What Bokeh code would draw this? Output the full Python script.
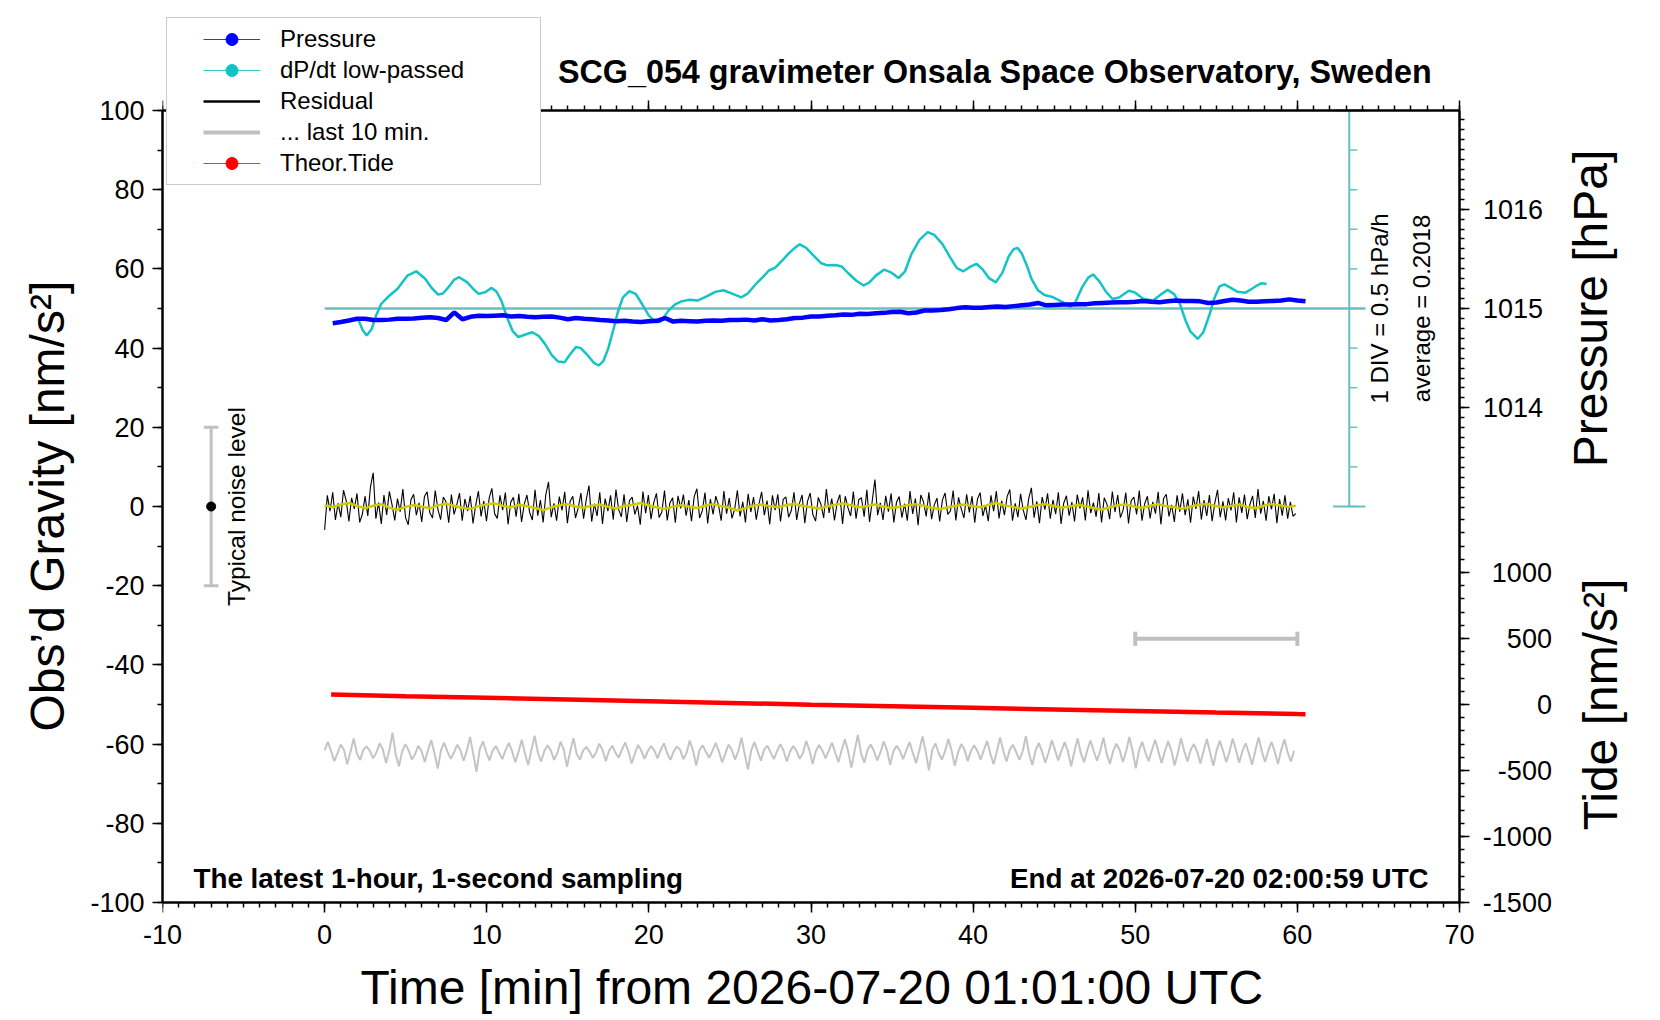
import numpy as np
from math import pi
from bokeh.plotting import figure
from bokeh.models import (Range1d, LinearAxis, SingleIntervalTicker, FixedTicker,
                          Label, Legend, LegendItem, PrintfTickFormatter, Title)
from bokeh.embed import file_html
from bokeh.resources import INLINE

FONT = "Liberation Sans"

# ---------------- data ----------------
# pressure [hPa], one value every 0.5 min from 0.5 to 60.5
PRESSURE_MIN = [0.5 + 0.5 * i for i in range(121)]
PRESSURE_HPA = [
    1014.852, 1014.864, 1014.880, 1014.896, 1014.896, 1014.884, 1014.884, 1014.888, 1014.896, 1014.896,
    1014.900, 1014.908, 1014.912, 1014.904, 1014.884, 1014.960, 1014.892, 1014.916, 1014.928, 1014.924,
    1014.928, 1014.932, 1014.920, 1014.924, 1014.916, 1014.912, 1014.916, 1014.920, 1014.908, 1014.892,
    1014.904, 1014.896, 1014.892, 1014.884, 1014.880, 1014.872, 1014.876, 1014.868, 1014.864, 1014.872,
    1014.876, 1014.904, 1014.868, 1014.876, 1014.872, 1014.868, 1014.876, 1014.880, 1014.876, 1014.884,
    1014.884, 1014.888, 1014.880, 1014.892, 1014.880, 1014.884, 1014.892, 1014.904, 1014.908, 1014.920,
    1014.920, 1014.928, 1014.932, 1014.940, 1014.936, 1014.948, 1014.944, 1014.952, 1014.956, 1014.964,
    1014.968, 1014.952, 1014.960, 1014.980, 1014.980, 1014.984, 1014.992, 1015.004, 1015.012, 1015.008,
    1015.008, 1015.016, 1015.020, 1015.016, 1015.024, 1015.032, 1015.040, 1015.056, 1015.032, 1015.036,
    1015.040, 1015.040, 1015.044, 1015.044, 1015.052, 1015.056, 1015.060, 1015.064, 1015.064, 1015.068,
    1015.076, 1015.068, 1015.064, 1015.072, 1015.080, 1015.076, 1015.076, 1015.072, 1015.056, 1015.060,
    1015.076, 1015.088, 1015.080, 1015.068, 1015.068, 1015.072, 1015.076, 1015.080, 1015.092, 1015.080,
    1015.072,
]

# low-passed dP/dt [hPa/h]
DPDT_MIN = [
    2.1, 2.35, 2.6, 2.9, 3.2, 3.5, 3.9, 4.5, 5.1, 5.65, 6.2, 6.6, 7.0, 7.3, 7.6, 8.0, 8.3, 8.8, 9.2, 9.5,
    9.9, 10.3, 10.6, 10.9, 11.3, 11.6, 11.95, 12.3, 12.8, 13.2, 13.6, 14.0, 14.4, 14.8, 15.1, 15.5, 15.8,
    16.2, 16.6, 16.9, 17.2, 17.5, 17.8, 18.1, 18.4, 18.8, 19.2, 19.6, 20.0, 20.4, 20.7, 21.2, 21.6, 22.0,
    22.5, 23.0, 23.6, 24.1, 24.6, 25.1, 25.7, 26.1, 26.6, 27.0, 27.4, 27.8, 28.2, 28.6, 29.0, 29.3, 29.7,
    30.1, 30.6, 31.0, 31.5, 31.9, 32.3, 32.8, 33.25, 33.6, 34.0, 34.5, 34.9, 35.4, 35.8, 36.2, 36.7, 37.2,
    37.6, 38.1, 38.6, 39.0, 39.4, 39.8, 40.2, 40.6, 41.0, 41.4, 41.8, 42.2, 42.5, 42.75, 43.0, 43.3, 43.6,
    44.0, 44.4, 44.9, 45.5, 46.0, 46.3, 46.7, 47.1, 47.4, 47.8, 48.2, 48.6, 49.0, 49.6, 50.0, 50.5, 51.1,
    51.6, 52.0, 52.4, 52.75, 53.1, 53.4, 53.85, 54.2, 54.6, 54.9, 55.2, 55.5, 55.9, 56.3, 56.8, 57.2, 57.5,
    57.8, 58.1,
]
DPDT = [
    -0.150, -0.275, -0.340, -0.260, -0.075, 0.060, 0.145, 0.250, 0.415, 0.470, 0.375, 0.260, 0.175, 0.190,
    0.260, 0.365, 0.395, 0.330, 0.240, 0.185, 0.205, 0.260, 0.215, 0.100, -0.140, -0.285, -0.360, -0.335,
    -0.300, -0.345, -0.450, -0.585, -0.670, -0.680, -0.590, -0.485, -0.500, -0.585, -0.685, -0.720, -0.660,
    -0.500, -0.275, -0.035, 0.140, 0.220, 0.180, 0.050, -0.090, -0.170, -0.170, -0.030, 0.050, 0.090, 0.110,
    0.100, 0.155, 0.210, 0.230, 0.190, 0.140, 0.190, 0.310, 0.390, 0.480, 0.515, 0.600, 0.690, 0.765, 0.810,
    0.765, 0.680, 0.575, 0.545, 0.550, 0.530, 0.445, 0.350, 0.290, 0.330, 0.415, 0.490, 0.460, 0.385, 0.470,
    0.690, 0.870, 0.965, 0.930, 0.815, 0.640, 0.510, 0.470, 0.525, 0.565, 0.490, 0.380, 0.330, 0.450, 0.660,
    0.750, 0.765, 0.695, 0.550, 0.375, 0.230, 0.170, 0.145, 0.085, 0.020, 0.075, 0.260, 0.390, 0.430, 0.340,
    0.210, 0.120, 0.140, 0.225, 0.200, 0.120, 0.100, 0.180, 0.235, 0.180, 0.060, -0.150, -0.290, -0.385,
    -0.300, -0.065, 0.140, 0.280, 0.305, 0.260, 0.210, 0.200, 0.250, 0.290, 0.320, 0.310,
]
DPDT_AVERAGE = 0.2018

# theoretical tide [nm/s2]
TIDE_MIN = [0.4, 5, 10, 15, 20, 25, 30, 35, 40, 45, 50, 55, 60, 60.5]
TIDE = [75, 63, 51, 38, 25, 12, -1, -13, -25, -37, -49, -61, -72, -73]

# residual [nm/s2], 0 .. 59.9 min
RESIDUAL = [
    -5.9, 2.8, -1.2, 3.6, -3.4, 0.8, -2.7, 4.1, 1.5, -3.8, 2.2, -0.6, 3.3, -4.0, -1.9, 2.6, -2.4, 5.0, 8.5, -3.1,
    1.0, -4.4, 2.9, -2.1, 3.8, 0.4, -3.5, 2.0, -1.3, 4.4, -2.8, -4.6, 1.7, 3.1, -2.2, 0.9, -3.9, 2.5, 3.7, -1.6,
    -2.9, 4.0, -0.7, -3.3, 2.4, 1.2, -4.1, 3.0, -2.0, 0.5, 3.4, -3.6, 1.9, -1.1, 2.7, -4.3, 0.3, 3.9, -2.5, 1.4,
    -3.7, 2.1, 4.6, -1.8, -3.0, 2.8, -0.9, 3.5, -4.5, 1.1, 2.3, -2.6, 3.2, -3.9, 0.6, 2.9, -1.5, -3.4, 4.2, -2.3,
    1.6, -4.0, 3.0, 6.2, -2.7, 0.8, -3.6, 2.5, -1.0, 3.7, -4.2, 1.3, 2.6, -2.9, -0.4, 3.4, -3.1, 1.8, 5.3, -3.8,
    0.7, -2.4, 3.6, -4.4, 2.0, -1.2, 2.8, -3.3, 4.3, -0.8, -2.6, 3.1, -3.9, 1.5, 2.4, -2.0, 0.2, -4.6, 3.8, -1.7,
    2.9, -3.2, 1.0, 3.3, -2.8, -1.4, 4.0, -3.5, 0.9, 2.2, -4.1, 2.7, -0.5, 3.0, -2.3, 1.6, -3.7, 2.5, 4.5, -2.9,
    -1.1, 3.5, -4.3, 1.9, -2.0, 2.6, 0.4, -3.6, 3.9, -1.8, 2.1, -3.0, -0.7, 4.1, -2.5, 1.2, -4.0, 3.2, -1.4, 2.4,
    -3.3, 0.6, 3.7, -2.2, 1.5, -4.5, 2.8, -0.9, 3.1, -3.8, 1.8, 2.4, -2.7, -1.0, 3.6, -3.4, 0.8, 2.9, -4.2, 1.3,
    3.4, -2.1, -3.7, 2.3, 0.5, -2.9, 4.4, -1.6, 2.0, -3.5, 1.0, 3.0, -4.4, 2.6, -0.3, -2.4, 3.8, -3.1, 1.7, 2.2,
    -2.6, 4.2, -3.9, 1.4, 6.8, -2.2, 0.9, -3.4, 2.7, -1.3, 3.3, -4.0, 1.1, 2.5, -2.8, 0.7, -3.6, 3.9, -1.9, 2.0,
    -4.7, 2.9, 1.2, -2.5, 3.6, -3.2, 0.4, 2.1, -3.8, 1.6, 3.4, -2.0, -1.1, 4.0, -3.5, 2.3, -0.6, -2.9, 3.1, -1.5,
    2.6, -4.1, 1.9, 3.5, -2.4, 0.3, -3.7, 2.8, -1.2, 3.9, -3.0, 1.4, -2.2, 2.5, 4.3, -3.6, 0.8, -2.7, 3.2, -1.0,
    -3.4, 2.0, 4.7, -2.8, 1.3, -4.2, 2.4, -0.8, 3.3, -3.1, 1.7, -1.9, 3.6, -4.4, 0.9, 2.7, -2.3, 1.1, -3.8, 3.0,
    -0.5, 2.3, -3.5, 4.1, -1.7, 1.0, -2.6, 3.4, -4.0, 2.2, 0.6, -3.2, 3.8, -1.4, 2.9, -2.8, -0.9, 3.5, -4.3, 1.5,
    2.4, -2.0, 4.0, -3.6, 0.7, 2.6, -3.0, 1.2, -1.8, 3.7, -4.5, 2.0, 3.1, -2.5, 0.4, -3.9, 2.8, -1.3, 3.3, -2.2,
    1.8, -4.1, 2.5, -0.6, 3.9, -3.3, 1.6, -2.4, 2.9, -3.7, 0.9, 4.2, -2.7, 1.3, -3.5, 2.1, -1.0, 3.6, -4.0, 2.3,
    -1.6, 3.0, -3.2, 0.5, 2.7, -2.9, 4.4, -1.8, 1.4, -3.6, 2.6, -0.7, 3.2, -4.2, 1.9, -2.3, 2.8, -3.1, 1.2, -2.5,
    -1.8,
]
RESID_SMOOTH = [
    0.3, -0.2, 0.5, 0.9, 0.1, -0.4, 0.2, 0.6, -0.3, -0.8, -0.1, 0.4, 0.0, -0.5, 0.3, 0.7, 0.2, -0.3, -0.6, 0.1,
    0.5, 0.8, 0.2, -0.2, 0.4, 0.1, -0.4, -0.9, -0.2, 0.3, 0.6, 0.0, -0.3, 0.2, 0.5, -0.1, -0.5, 0.1, 0.4, 0.9,
    0.3, -0.2, -0.6, -0.1, 0.3, 0.0, -0.4, 0.2, 0.6, 0.1, -0.3, -1.0, -0.4, 0.2, 0.5, 0.1, -0.2, 0.3, 0.7, 0.2,
    -0.1, -0.5, 0.0, 0.4, 0.8, 0.3, -0.2, 0.1, 0.5, 0.0, -0.4, -0.1, 0.3, 0.6, 0.2, -0.3, -0.7, -0.2, 0.2, 0.5,
    0.1, -0.2, 0.4, 0.9, 0.3, -0.1, -0.5, -0.2, 0.3, 0.6, 0.2, -0.3, 0.0, 0.4, 0.1, -0.4, -0.8, -0.2, 0.3, 0.5,
    0.0, -0.3, 0.2, 0.6, 0.1, -0.2, -0.6, 0.0, 0.4, 0.7, 0.2, -0.2, 0.1, 0.5, -0.1, -0.4, 0.2, 0.6, 0.3, -0.1,
    0.2,
]
# last 10 min of residual, stretched over the hour [nm/s2]
LAST10 = [
    0.4, 2.6, 0.2, -2.3, -0.3, 1.9, 0.5, -3.1, 0.1, 3.4, -0.4, -2.0, 0.6, 1.4, 0.3, -1.6, -0.2, 2.2, 0.7, -2.8,
    0.3, 4.9, -0.6, -3.6, 0.2, 2.0, 0.4, -1.9, -0.5, 1.6, 0.2, -2.5, 0.6, 3.0, -0.3, -4.2, 0.4, 2.4, 0.1, -1.7,
    -0.2, 1.8, 0.5, -2.2, 0.3, 3.8, -0.5, -5.0, 0.7, 2.7, 0.0, -2.1, 0.4, 1.5, -0.2, -1.8, 0.5, 2.3, 0.2, -2.6,
    0.1, 3.1, -0.4, -3.3, 0.6, 4.1, -0.2, -2.4, 0.3, 1.7, 0.4, -2.0, -0.3, 2.6, 0.6, -3.7, 0.2, 3.5, -0.5, -1.9,
    0.4, 1.3, 0.1, -1.5, -0.1, 2.1, 0.5, -2.3, 0.3, 1.6, -0.2, -1.4, 0.6, 2.4, 0.2, -2.9, -0.4, 1.8, 0.3, -1.7,
    0.2, 1.5, 0.4, -1.6, 0.5, 2.2, -0.3, -2.0, 0.1, 1.4, 0.6, -1.8, -0.2, 2.9, 0.3, -3.4, 0.5, 1.7, 0.0, -1.5,
    0.3, 2.3, 0.2, -2.6, -0.4, 1.9, 0.5, -1.9, 0.2, 3.6, -0.6, -4.4, 0.4, 2.5, 0.1, -2.2, 0.6, 1.6, -0.1, -1.8,
    0.2, 2.0, 0.4, -2.4, 0.1, 1.5, 0.3, -1.7, -0.3, 2.8, 0.5, -3.0, 0.2, 1.8, 0.4, -1.6, 0.3, 2.4, -0.2, -2.5,
    0.5, 3.2, 0.1, -3.9, 0.3, 4.3, -0.4, -2.7, 0.6, 1.9, 0.2, -2.1, -0.1, 2.7, 0.5, -3.2, 0.2, 1.6, 0.3, -1.8,
    0.4, 2.5, -0.2, -2.8, 0.3, 3.9, 0.1, -4.6, 0.5, 2.2, -0.3, -1.9, 0.2, 3.3, 0.4, -3.5, -0.1, 2.0, 0.6, -2.3,
    0.3, 1.7, 0.2, -1.9, 0.5, 2.8, -0.4, -3.1, 0.1, 3.7, 0.3, -2.4, 0.6, 1.8, 0.0, -2.0, 0.2, 4.0, -0.5, -3.3,
    0.4, 2.3, 0.1, -2.7, -0.2, 3.0, 0.5, -2.1, 0.3, 2.5, 0.2, -3.6, 0.1, 3.4, -0.3, -2.6, 0.5, 2.9, 0.2, -2.2,
    0.3, 3.6, -0.4, -3.0, 0.2, 2.1, 0.5, -2.5, 0.1, 3.8, 0.3, -4.1, 0.4, 2.6, -0.2, -2.3, 0.5, 3.1, 0.1, -2.8,
    0.2, 2.7, 0.4, -3.4, -0.3, 3.5, 0.2, -2.4, 0.6, 2.0, 0.1, -2.9, 0.3, 3.3, -0.2, -3.5, 0.4, 2.8, 0.3, -2.6,
    0.1, 3.4, 0.5, -2.7, 0.2, 2.2, -0.3, -3.2, 0.4, 3.7, 0.2, -2.5, 0.3, 2.6, 0.1, -3.0, 0.5, 3.2, -0.1, -2.4,
    0.3,
]

# right axis tick labels
P_TICKS = [1014, 1015, 1016]
T_TICKS = [-1500, -1000, -500, 0, 500, 1000]

# ---------------- scales ----------------
X_MIN, X_MAX = -10, 70
G_MIN, G_MAX = -100, 100
PX_PER_MIN = 16.2125
PX_PER_G = 3.96
FRAME_W = 1466                      # frame also holds the right-hand texts
FRAME_TOP_PAD = 96                  # px above G=100 (title and legend)
FRAME_BOT_PAD = 12                  # px below G=-100 (lowest tide label)
FRAME_H = FRAME_TOP_PAD + 200 * PX_PER_G + FRAME_BOT_PAD
X_END = X_MIN + FRAME_W / PX_PER_MIN
Y_START = G_MIN - FRAME_BOT_PAD / PX_PER_G
Y_END = G_MAX + FRAME_TOP_PAD / PX_PER_G

G_PER_HPA = 25.08
P_START = 1015 - 150 / G_PER_HPA
P_END = 1015 + 50 / G_PER_HPA
T_START, T_END = -1500, 4500
LAST10_OFFSET = 62


def rng(lo, hi):
    # secondary range with lo at G=-100 and hi at G=100
    k = (hi - lo) / (G_MAX - G_MIN)
    return Range1d(lo + (Y_START - G_MIN) * k, lo + (Y_END - G_MIN) * k)


def to_g(v, lo, hi):
    return round(G_MIN + (v - lo) / (hi - lo) * (G_MAX - G_MIN), 6)


p = figure(frame_width=FRAME_W, frame_height=int(round(FRAME_H)),
           x_range=Range1d(X_MIN, X_END), y_range=Range1d(Y_START, Y_END),
           output_backend="svg", toolbar_location=None, tools="",
           min_border_left=162, min_border_right=0, min_border_top=14, min_border_bottom=0)
p.extra_y_ranges = {
    "pressure": rng(P_START, P_END),
    "dpdt": rng(-7.5, 2.5),
    "tide": rng(T_START, T_END),
    "last10": rng(G_MIN + LAST10_OFFSET, G_MAX + LAST10_OFFSET),
}
p.xgrid.visible = False
p.ygrid.visible = False
p.outline_line_color = None


def style_axis(ax):
    ax.axis_line_width = 2.5
    ax.axis_line_color = "black"
    ax.major_tick_line_width = 1.5
    ax.minor_tick_line_width = 1.5
    ax.major_tick_in = 0
    ax.major_tick_out = 10
    ax.minor_tick_in = 0
    ax.minor_tick_out = 5
    ax.major_label_text_font = FONT
    ax.major_label_text_font_size = "27px"
    ax.major_label_text_color = "black"
    ax.major_label_standoff = 8


x_ticker = SingleIntervalTicker(interval=10, num_minor_ticks=10)
blank_x = {v: "" for v in range(X_MIN, X_MAX + 10, 10)}

# bottom: labels from a plain axis at the frame edge, line and ticks at G=-100
xaxis = p.xaxis[0]
xaxis.ticker = x_ticker
xaxis.bounds = (X_MIN, X_MAX)
xaxis.formatter = PrintfTickFormatter(format="%d")
style_axis(xaxis)
xaxis.axis_line_color = None
xaxis.major_tick_line_color = None
xaxis.minor_tick_line_color = None
xaxis.major_tick_out = 0
xaxis.minor_tick_out = 0
xaxis.major_label_standoff = 10

yaxis = p.yaxis[0]
yaxis.ticker = SingleIntervalTicker(interval=20, num_minor_ticks=2)
yaxis.bounds = (G_MIN, G_MAX)
yaxis.formatter = PrintfTickFormatter(format="%d")
style_axis(yaxis)

# axis titles (kept off the oversized frame centre)
p.add_layout(Title(text="Time [min] from 2026-07-20 01:01:00 UTC", align="left", offset=198,
                   standoff=25, text_font=FONT, text_font_size="48px", text_font_style="normal",
                   text_color="black"), "below")
p.add_layout(Title(text="Obs\u2019d Gravity [nm/s\u00b2]", align="left", offset=183,
                   standoff=28, text_font=FONT, text_font_size="48px", text_font_style="normal",
                   text_color="black"), "left")

bottom = LinearAxis(ticker=x_ticker, fixed_location=G_MIN, bounds=(X_MIN, X_MAX))
style_axis(bottom)
bottom.major_label_standoff = 0
bottom.major_label_overrides = blank_x
p.add_layout(bottom, "below")

top = LinearAxis(ticker=x_ticker, fixed_location=G_MAX, bounds=(X_MIN, X_MAX))
style_axis(top)
top.major_label_standoff = 0
top.major_label_overrides = blank_x
p.add_layout(top, "above")

right_major = [to_g(v, P_START, P_END) for v in P_TICKS] + [to_g(v, T_START, T_END) for v in T_TICKS]
p_minor = [round(1013.0 + 0.1 * i, 1) for i in range(40)]
t_minor = list(range(-1500, 1500, 100))
right_minor = [to_g(v, P_START, P_END) for v in p_minor] + [to_g(v, T_START, T_END) for v in t_minor]
right = LinearAxis(ticker=FixedTicker(ticks=right_major, minor_ticks=right_minor),
                   fixed_location=X_MAX, bounds=(G_MIN, G_MAX))
style_axis(right)
right.major_label_standoff = 0
right.major_label_overrides = {v: "" for v in right_major}
p.add_layout(right, "right")

# ---------------- dP/dt reference ----------------
CYAN_LIGHT = "#66c0c0"
RULER_X = 63.2
DIVS = [-2.5 + 0.5 * i for i in range(11)]
p.segment(x0=0, y0=0, x1=RULER_X + 1.0, y1=0, y_range_name="dpdt", line_color=CYAN_LIGHT, line_width=2.5)
p.segment(x0=RULER_X, y0=DIVS[0], x1=RULER_X, y1=DIVS[-1], y_range_name="dpdt",
          line_color=CYAN_LIGHT, line_width=2)
p.segment(x0=RULER_X, y0=DIVS, x1=RULER_X + 0.5, y1=DIVS, y_range_name="dpdt",
          line_color=CYAN_LIGHT, line_width=1.5)
p.segment(x0=RULER_X - 1.0, y0=[DIVS[0], DIVS[-1]], x1=RULER_X + 1.0, y1=[DIVS[0], DIVS[-1]],
          y_range_name="dpdt", line_color=CYAN_LIGHT, line_width=2)

# ---------------- series ----------------
p.line(DPDT_MIN, DPDT, y_range_name="dpdt", line_color="#14c4c4", line_width=2.5)
p.line(PRESSURE_MIN, PRESSURE_HPA, y_range_name="pressure", line_color="#0000ff", line_width=4.5)

t_res = np.linspace(0, 59.9, len(RESIDUAL))
p.line(t_res, RESIDUAL, line_color="black", line_width=1.1)
t_sm = np.linspace(0, 59.9, len(RESID_SMOOTH))
p.line(t_sm, RESID_SMOOTH, line_color="#cccc00", line_width=2.5)

p.line(TIDE_MIN, TIDE, y_range_name="tide", line_color="#ff0000", line_width=4.5)

t_l10 = np.linspace(0, 59.8, len(LAST10))
p.line(t_l10, LAST10, y_range_name="last10", line_color="#c4c4c4", line_width=2)

# 10-minute scale bar for the grey trace
BAR_Y = -33.4
p.segment(x0=50, y0=BAR_Y, x1=60, y1=BAR_Y, line_color="#c0c0c0", line_width=4)
p.segment(x0=[50, 60], y0=BAR_Y - 1.8, x1=[50, 60], y1=BAR_Y + 1.8, line_color="#c0c0c0", line_width=4)

# typical noise level bar
NOISE_X, NOISE = -7.0, 20
p.segment(x0=NOISE_X, y0=-NOISE, x1=NOISE_X, y1=NOISE, line_color="#c0c0c0", line_width=3)
p.segment(x0=NOISE_X - 0.45, y0=[-NOISE, NOISE], x1=NOISE_X + 0.45, y1=[-NOISE, NOISE],
          line_color="#c0c0c0", line_width=3)
p.scatter([NOISE_X], [0], marker="circle", size=9, color="black")


# ---------------- texts ----------------
def label(x, y, text, size, align="center", baseline="middle", angle=0, bold=False, yr="default"):
    p.add_layout(Label(x=x, y=y, text=text, text_font=FONT, text_font_size=size,
                       text_align=align, text_baseline=baseline, angle=angle,
                       text_font_style="bold" if bold else "normal", text_color="black",
                       y_range_name=yr))


label(68.28, 109.8, "SCG_054 gravimeter Onsala Space Observatory, Sweden", "32.3px",
      align="right", baseline="alphabetic", bold=True)
label(-8.09, -94.0, "The latest 1-hour, 1-second sampling", "27.8px",
      align="left", baseline="alphabetic", bold=True)
label(68.10, -94.0, "End at 2026-07-20 02:00:59 UTC", "27.8px",
      align="right", baseline="alphabetic", bold=True)
label(-5.42, 0, "Typical noise level", "24.5px", angle=pi / 2)
label(65.08, 0, "1 DIV = 0.5 hPa/h", "24px", angle=pi / 2, yr="dpdt")
label(67.67, 0, "average = %.4f" % DPDT_AVERAGE, "24px", angle=pi / 2, yr="dpdt")

for v in P_TICKS:
    label(75.15, v, str(v), "27px", align="right", yr="pressure")
for v in T_TICKS:
    label(75.70, v, str(v), "27px", align="right", yr="tide")
label(78.1, 1015.0, "Pressure [hPa]", "48px", angle=pi / 2, yr="pressure")
label(78.7, 0, "Tide [nm/s\u00b2]", "48px", angle=pi / 2, yr="tide")

# ---------------- legend ----------------
# box and texts come from one legend, the glyph samples from a second one on top
NAN = [float("nan")]
hidden = [p.line(NAN, NAN, line_alpha=0)]
lg_p = [p.line(NAN, NAN, line_color="#3030ff", line_width=1),
        p.scatter(NAN, NAN, marker="circle", size=9, color="#0000ff")]
lg_d = [p.line(NAN, NAN, line_color="#30c8c8", line_width=1),
        p.scatter(NAN, NAN, marker="circle", size=9, color="#10c4c4")]
lg_r = [p.line(NAN, NAN, line_color="black", line_width=2.5)]
lg_l = [p.line(NAN, NAN, line_color="#c0c0c0", line_width=4)]
lg_t = [p.line(NAN, NAN, line_color="#ff3030", line_width=1),
        p.scatter(NAN, NAN, marker="circle", size=9, color="#ff0000")]

LEGEND_LABELS = ["Pressure", "dP/dt low-passed", "Residual", "... last 10 min.", "Theor.Tide"]
common = dict(padding=6, margin=0, spacing=1, glyph_height=30, label_height=30,
              label_text_font=FONT, label_text_font_size="24px", label_text_color="black")

box_legend = Legend(items=[LegendItem(label=t, renderers=hidden) for t in LEGEND_LABELS],
                    location=(4, 729), glyph_width=70, label_standoff=37, label_width=254,
                    border_line_color="#999999", border_line_width=1.5,
                    background_fill_color="white", background_fill_alpha=1.0, **common)
p.add_layout(box_legend, "center")

glyph_legend = Legend(items=[LegendItem(label=" ", renderers=r)
                             for r in (lg_p, lg_d, lg_r, lg_l, lg_t)],
                      location=(41, 736), glyph_width=57, label_standoff=0, label_width=1,
                      border_line_color=None, background_fill_alpha=0.0, **common)
p.add_layout(glyph_legend, "center")

open("out.html", "w").write(file_html(p, INLINE))
